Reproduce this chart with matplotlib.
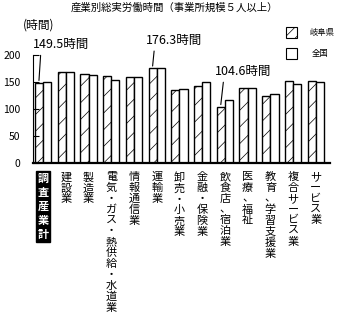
import numpy as np
import matplotlib
matplotlib.use("Agg")
import matplotlib.pyplot as plt

plt.rcParams['font.family'] = ['Noto Sans CJK JP', 'DejaVu Sans']
plt.rcParams['hatch.linewidth'] = 0.5
plt.rcParams['hatch.color'] = '#808080'

# data
categories = ["調査産業計", "建設業", "製造業", "電気・ガス・熱供給・水道業", "情報通信業",
              "運輸業", "卸売・小売業", "金融・保険業", "飲食店、宿泊業", "医療、福祉",
              "教育、学習支援業", "複合サービス業", "サービス業"]
gifu = [149.5, 170, 166, 161, 159, 176.3, 136.5, 143, 104.6, 140, 125, 152, 152]
zenkoku = [150, 170, 164, 155, 160.5, 177, 138, 150, 117, 140, 129, 146, 150]
yticks = [0, 50, 100, 150, 200]
callouts = [0, 5, 8]  # indices of Gifu bars with labels

fig = plt.figure(figsize=(3.48, 3.36), dpi=100)
ax = fig.add_axes([0.095, 0.515, 0.853, 0.376])

x = np.arange(len(categories))
w = 0.36
ax.bar(x - w / 2, gifu, w, facecolor='white', edgecolor='black', linewidth=1.0, hatch='//')
ax.bar(x + w / 2, zenkoku, w, facecolor='white', edgecolor='black', linewidth=1.0)

ax.set_xlim(-0.44, 12.62)
ax.set_ylim(0, 235)
ax.spines['top'].set_visible(False)
ax.spines['right'].set_visible(False)
ax.spines['left'].set_bounds(0, 200)
ax.spines['bottom'].set_linewidth(1.6)
ax.set_yticks(yticks)
ax.tick_params(axis='y', direction='in', length=4, pad=9, labelsize=7.5)
ax.set_xticks([])

# callout labels
offsets = {0: (0.95, 220), 5: (0.95, 228), 8: (1.0, 170)}
for i in callouts:
    dx, ty = offsets[i]
    ax.annotate(f"{gifu[i]}時間", xy=(x[i] - w / 2, gifu[i] + 4),
                xytext=(x[i] - w / 2 + dx, ty), fontsize=9, ha='center', va='center',
                arrowprops=dict(arrowstyle='-', color='black', lw=0.8,
                                relpos=(0.15, 0.0), shrinkA=1, shrinkB=0))

# vertical category labels
for i, name in enumerate(categories):
    txt = "\n".join(name)
    if i == 0:
        ax.text(x[i], -17, txt, ha='center', va='top', fontsize=8, color='white',
                linespacing=1.1, fontweight='bold',
                bbox=dict(facecolor='black', edgecolor='black', pad=1))
    else:
        ax.text(x[i], -17, txt, ha='center', va='top', fontsize=8, linespacing=1.1)

fig.text(0.5, 0.978, "産業別総実労働時間（事業所規模５人以上）", ha='center', va='center', fontsize=7.5)
fig.text(0.066, 0.925, "(時間)", ha='left', va='center', fontsize=8.5)

# legend boxes
lx, lw = 0.822, 0.032
fig.patches.append(plt.Rectangle((lx, 0.886), lw, 0.033, transform=fig.transFigure,
                                 facecolor='white', edgecolor='black', lw=0.8, hatch='///'))
fig.patches.append(plt.Rectangle((lx, 0.824), lw, 0.033, transform=fig.transFigure,
                                 facecolor='white', edgecolor='black', lw=0.8))
fig.text(0.89, 0.903, "岐阜県", ha='left', va='center', fontsize=6)
fig.text(0.895, 0.841, "全国", ha='left', va='center', fontsize=6)

fig.savefig("out.png", dpi=100)
